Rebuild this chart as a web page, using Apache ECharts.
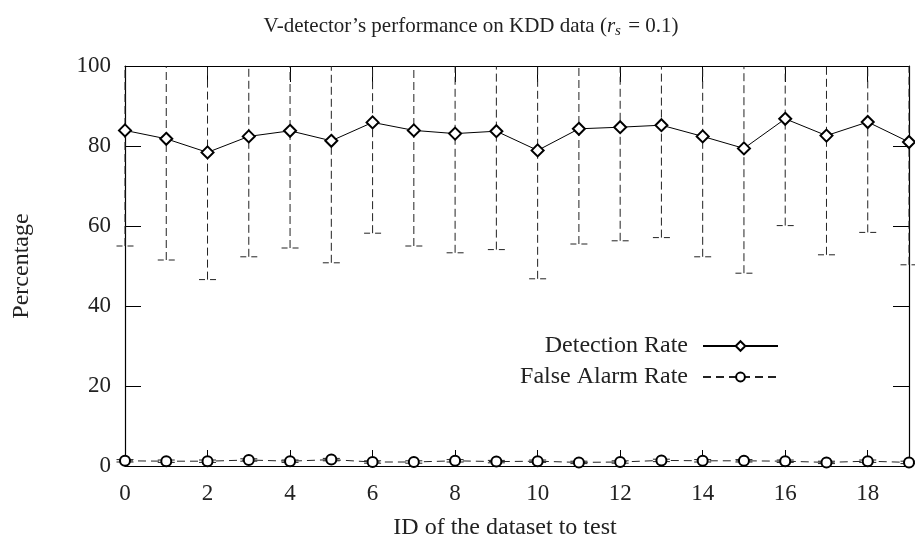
<!DOCTYPE html>
<html>
<head>
<meta charset="utf-8">
<script src="https://cdn.jsdelivr.net/npm/echarts@6/dist/echarts.min.js"></script>
<style>html,body{margin:0;padding:0;background:#fff}#c{width:915px;height:546px}</style>
</head>
<body>
<div id="c"></div>
<script>
// ---- data ----
const datasetIds = [0,1,2,3,4,5,6,7,8,9,10,11,12,13,14,15,16,17,18,19];
const detectionRate = [83.9,81.8,78.4,82.4,83.8,81.3,85.9,83.9,83.1,83.7,78.9,84.3,84.7,85.2,82.4,79.4,86.8,82.6,86.0,81.0];
const detectionLow  = [55.0,51.5,46.6,52.3,54.5,50.8,58.2,55.0,53.3,54.1,46.8,55.5,56.3,57.1,52.3,48.2,60.1,52.8,58.4,50.3];
const falseAlarmRate = [1.3,1.2,1.2,1.5,1.2,1.6,1.0,1.0,1.3,1.1,1.2,0.9,1.0,1.4,1.3,1.3,1.2,0.9,1.2,0.9];
const falseAlarmErr  = [0.3,0.3,0.3,0.3,0.3,0.3,0.3,0.3,0.3,0.3,0.3,0.3,0.3,0.3,0.3,0.3,0.3,0.3,0.3,0.3];
const yTicks = [0,20,40,60,80,100];
const xTicks = [0,2,4,6,8,10,12,14,16,18];

const FONT = 'Liberation Serif';
const detErr = datasetIds.map((x,i)=>[x, detectionRate[i], detectionRate[i]-detectionLow[i]]);
const faErr = datasetIds.map((x,i)=>[x, falseAlarmRate[i], falseAlarmErr[i]]);

function errRender(dashed, plus) {
  return function(params, api) {
    const x = api.value(0), m = api.value(1), sd = api.value(2);
    const cs = params.coordSys;
    const p = api.coord([x, m]);
    const lo = api.coord([x, m - sd]);
    const hi = api.coord([x, m + sd]);
    const top = Math.max(hi[1], cs.y);
    const bot = Math.min(lo[1], cs.y + cs.height);
    const st = {stroke:'#222', lineWidth:1, lineDash: dashed ? [8,4] : null, fill:null};
    const ch = [
      {type:'line', shape:{x1:p[0], y1:bot, x2:p[0], y2:top}, style:st, silent:true}
    ];
    const cw = 8.5;
    const capSt = Object.assign({}, st, {lineDash: dashed ? [6,5] : null});
    if (lo[1] <= cs.y + cs.height) ch.push({type:'line', shape:{x1:p[0]-cw, y1:lo[1], x2:p[0]+cw, y2:lo[1]}, style:capSt, silent:true});
    if (hi[1] >= cs.y) ch.push({type:'line', shape:{x1:p[0]-cw, y1:hi[1], x2:p[0]+cw, y2:hi[1]}, style:capSt, silent:true});
    if (plus) {
      ch.push({type:'line', shape:{x1:p[0]-5, y1:p[1], x2:p[0]+5, y2:p[1]}, style:{stroke:'#000', lineWidth:1}, silent:true});
      ch.push({type:'line', shape:{x1:p[0], y1:p[1]-5, x2:p[0], y2:p[1]+5}, style:{stroke:'#000', lineWidth:1}, silent:true});
    }
    return {type:'group', children: ch};
  };
}

const chart = echarts.init(document.getElementById('c'), null, {renderer:'canvas'});
const axisCommon = {
  axisLine:{show:true, onZero:false, lineStyle:{color:'#000', width:1.2}},
  axisTick:{show:true, inside:true, length:16, lineStyle:{color:'#000'}},
  splitLine:{show:false}
};
const txt = {fontFamily:FONT, fontSize:21, color:'#222', fontWeight:'normal'};
const lbl = {fontFamily:FONT, fontSize:24, color:'#222', fontWeight:'normal'};
chart.setOption({
  animation:false,
  backgroundColor:'#fff',
  title:{
    text:'{a|V-detector’s performance on KDD data (}{i|r}{s|s}{a| = 0.1)}',
    left:466, top:8, textAlign:'center',
    textStyle:{fontWeight:'normal', rich:{
      a:Object.assign({}, txt, {lineHeight:26}),
      i:Object.assign({}, txt, {fontStyle:'italic', lineHeight:26}),
      s:Object.assign({}, txt, {fontSize:15, fontStyle:'italic', lineHeight:26, verticalAlign:'bottom', padding:[0,2,0,0]})
    }}
  },
  grid:{left:125, right:6, top:66, bottom:80},
  legend:[
    {data:['Detection Rate'], orient:'vertical', right:131, top:329, align:'right', itemWidth:75, itemHeight:12,
     textStyle:Object.assign({}, lbl, {padding:[0,10,0,0]}), selectedMode:false},
    {data:['False Alarm Rate'], orient:'vertical', right:131, top:360, align:'right', itemWidth:75, itemHeight:11,
     textStyle:Object.assign({}, lbl, {padding:[0,10,0,0]}), selectedMode:false}
  ],
  xAxis:[
    Object.assign({type:'value', min:0, max:19, interval:2, position:'bottom',
      axisLabel:{fontFamily:FONT, fontSize:23, color:'#222', margin:16, showMaxLabel:false}}, axisCommon),
    Object.assign({type:'value', min:0, max:19, interval:2, position:'top', axisLabel:{show:false}}, axisCommon)
  ],
  yAxis:[
    Object.assign({type:'value', min:0, max:100, interval:20, position:'left',
      axisLabel:{fontFamily:FONT, fontSize:23, color:'#222', margin:14}}, axisCommon),
    Object.assign({type:'value', min:0, max:100, interval:20, position:'right', axisLabel:{show:false}}, axisCommon)
  ],
  graphic:[
    {type:'text', x:22, y:266, rotation:Math.PI/2, style:{text:'Percentage', font:'24px "Liberation Serif"', fill:'#222', textAlign:'center', textVerticalAlign:'middle'}, silent:true},
    {type:'text', x:505, y:528, style:{text:'ID of the dataset to test', font:'24px "Liberation Serif"', fill:'#222', textAlign:'center', textVerticalAlign:'middle'}, silent:true}
  ],
  series:[
    {type:'custom', name:'detErr', data:detErr, renderItem:errRender(true,true), encode:{x:0,y:1}, z:1, silent:true},
    {type:'custom', name:'faErr', data:faErr, renderItem:errRender(false,true), encode:{x:0,y:1}, z:1, silent:true},
    {type:'line', name:'Detection Rate', data:datasetIds.map((x,i)=>[x, detectionRate[i]]),
      symbol:'emptyDiamond', symbolSize:12, showAllSymbol:true, clip:false,
      lineStyle:{color:'#000', width:1}, itemStyle:{color:'#000', borderWidth:1.2}, z:3},
    {type:'line', name:'False Alarm Rate', data:datasetIds.map((x,i)=>[x, falseAlarmRate[i]]),
      symbol:'emptyCircle', symbolSize:10, showAllSymbol:true, clip:false,
      lineStyle:{color:'#222', width:1, type:[8,5]}, itemStyle:{color:'#000', borderWidth:1.2}, z:3}
  ]
});
</script>
</body>
</html>
